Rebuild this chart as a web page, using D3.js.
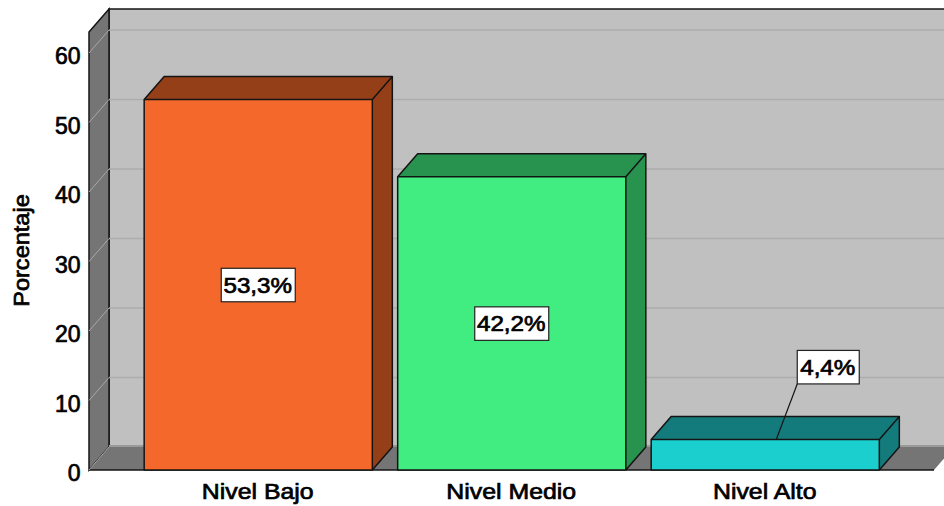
<!DOCTYPE html>
<html>
<head>
<meta charset="utf-8">
<script src="https://cdn.jsdelivr.net/npm/d3@7"></script>
<style>
  html, body { margin: 0; padding: 0; background: #fff; }
  svg { display: block; }
  /* regular weight with a thin stroke: the source text is a bit heavier than regular, not true bold */
  text { font-family: "Liberation Sans", Arial, sans-serif; fill: #000; stroke: #000; stroke-width: 0.7; }
</style>
</head>
<body>
<div class="container"></div>
<script>
const categories = ["Nivel Bajo", "Nivel Medio", "Nivel Alto"];
const values = [53.3, 42.2, 4.4];
const valueLabels = ["53,3%", "42,2%", "4,4%"];
const frontColors = ["#f4692b", "#41ec80", "#1bcfcf"];
const sideColors = ["#943f18", "#27934f", "#137b7b"];
const yTicks = [0, 10, 20, 30, 40, 50, 60];

const width = 944, height = 506;
const depthX = 20, depthY = 23;   // offset of the 3d depth

const svg = d3.select(".container")
    .append("svg")
    .attr("width", width)
    .attr("height", height);

// SCALES
const y = d3.scaleLinear().domain([0, 60]).range([470, 53]);
const x = d3.scaleBand()
    .domain(categories)
    .range([131.5, 892])
    .paddingInner(0.1)
    .paddingOuter(0.05);

const floorLeft = 89, floorRight = 934;
const wallTop = 32;

const pts = arr => arr.map(p => p.join(",")).join(" ");
const edge = "#141414";

// WALLS
svg.append("polygon")
    .attr("points", pts([[floorLeft + depthX, wallTop - depthY], [floorRight + depthX + 40, wallTop - depthY],
        [floorRight + depthX + 40, y(0) - depthY], [floorLeft + depthX, y(0) - depthY]]))
    .attr("fill", "#c0c0c0")
    .attr("stroke", edge)
    .attr("stroke-width", 1.5);

svg.append("polygon")
    .attr("points", pts([[floorLeft, wallTop], [floorLeft + depthX, wallTop - depthY],
        [floorLeft + depthX, y(0) - depthY], [floorLeft, y(0)]]))
    .attr("fill", "#757575")
    .attr("stroke", edge)
    .attr("stroke-width", 1.5);

svg.append("polygon")
    .attr("points", pts([[floorLeft, y(0)], [floorLeft + depthX, y(0) - depthY],
        [floorRight + depthX, y(0) - depthY], [floorRight, y(0)]]))
    .attr("fill", "#757575");

svg.append("line")
    .attr("x1", floorLeft).attr("x2", floorRight)
    .attr("y1", y(0)).attr("y2", y(0))
    .attr("stroke", edge)
    .attr("stroke-width", 1.5);

svg.append("line")
    .attr("x1", floorLeft + depthX).attr("x2", width)
    .attr("y1", y(0) - depthY - 1).attr("y2", y(0) - depthY - 1)
    .attr("stroke", "#9a9a9a")
    .attr("stroke-width", 2);

// GRID LINES
yTicks.filter(t => t > 0).forEach(t => {
    svg.append("line")
        .attr("x1", floorLeft + depthX).attr("x2", width)
        .attr("y1", y(t) - depthY).attr("y2", y(t) - depthY)
        .attr("stroke", "#adadad")
        .attr("stroke-width", 1.5);
});
yTicks.forEach(t => {
    svg.append("line")
        .attr("x1", floorLeft).attr("x2", floorLeft + depthX)
        .attr("y1", y(t)).attr("y2", y(t) - depthY)
        .attr("stroke", "#a8a8a8")
        .attr("stroke-width", 1);
});

// BARS
const bars = svg.selectAll("g.bar")
    .data(categories)
    .enter()
    .append("g")
    .attr("class", "bar");

bars.append("polygon")
    .attr("points", (d, i) => {
        const x0 = x(d), x1 = x(d) + x.bandwidth(), top = y(values[i]);
        return pts([[x0, top], [x0 + depthX, top - depthY], [x1 + depthX, top - depthY], [x1, top]]);
    })
    .attr("fill", (d, i) => sideColors[i]);

bars.append("polygon")
    .attr("points", (d, i) => {
        const x1 = x(d) + x.bandwidth(), top = y(values[i]);
        return pts([[x1, top], [x1 + depthX, top - depthY], [x1 + depthX, y(0) - depthY], [x1, y(0)]]);
    })
    .attr("fill", (d, i) => sideColors[i]);

bars.append("rect")
    .attr("x", d => x(d))
    .attr("y", (d, i) => y(values[i]))
    .attr("width", x.bandwidth())
    .attr("height", (d, i) => y(0) - y(values[i]))
    .attr("fill", (d, i) => frontColors[i]);

// outline of the whole box, drawn last so the edges sit on top
bars.append("path")
    .attr("d", (d, i) => {
        const x0 = x(d), x1 = x(d) + x.bandwidth(), top = y(values[i]), b = y(0);
        return `M${x0},${b}V${top}L${x0 + depthX},${top - depthY}H${x1 + depthX}V${b - depthY}L${x1},${b}Z` +
            `M${x0},${top}H${x1}V${b}M${x1},${top}L${x1 + depthX},${top - depthY}`;
    })
    .attr("fill", "none")
    .attr("stroke", edge)
    .attr("stroke-width", 1.5)
    .attr("stroke-linejoin", "round");

// AXES
const yAxis = d3.axisLeft(y).tickValues(yTicks).tickSize(0).tickPadding(0);
const yG = svg.append("g")
    .attr("transform", "translate(80.5, 3.2)")
    .call(yAxis);
yG.select(".domain").remove();
yG.selectAll("text").style("font-size", "23px");
yG.attr("font-family", null).attr("font-size", null);

const xAxis = d3.axisBottom(x).tickSize(0).tickPadding(0);
const xG = svg.append("g")
    .attr("transform", "translate(-0.5, 483)")
    .call(xAxis);
xG.select(".domain").remove();
// the source labels are wider than the font at this height, so stretch them sideways
xG.selectAll("text")
    .style("font-size", "22px")
    .attr("transform", "scale(1.13, 1)");
xG.attr("font-family", null).attr("font-size", null);

svg.append("text")
    .attr("transform", "translate(29, 250.5) rotate(-90) scale(1.07, 1)")
    .attr("text-anchor", "middle")
    .style("font-size", "22px")
    .text("Porcentaje");

// VALUE LABELS
// first two sit in the middle of the bar, the small one is pulled out with a leader line
const labelPos = (d, i) => i < 2
    ? [x(d) + x.bandwidth() / 2, (y(values[i]) + y(0)) / 2]
    : [x(d) + x.bandwidth() / 2 + 63, y(values[i]) - 72.5];

const leaderIdx = 2;
svg.append("line")
    .attr("x1", labelPos(categories[leaderIdx], leaderIdx)[0] - 31)
    .attr("y1", labelPos(categories[leaderIdx], leaderIdx)[1] + 17)
    .attr("x2", x(categories[leaderIdx]) + x.bandwidth() / 2 + 11)
    .attr("y2", y(values[leaderIdx]))
    .attr("stroke", edge)
    .attr("stroke-width", 1.2);

const labels = svg.selectAll("g.value")
    .data(categories)
    .enter()
    .append("g")
    .attr("class", "value")
    .attr("transform", (d, i) => `translate(${labelPos(d, i)})`);

labels.append("rect")
    .attr("x", (d, i) => i < 2 ? -37 : -31)
    .attr("y", -16.5)
    .attr("width", (d, i) => i < 2 ? 74 : 62)
    .attr("height", 33.5)
    .attr("fill", "#fff")
    .attr("stroke", "#222")
    .attr("stroke-width", 1.2);

labels.append("text")
    .attr("text-anchor", "middle")
    .attr("transform", "translate(-0.5, 8) scale(1.1, 1)")
    .style("font-size", "22px")
    .text((d, i) => valueLabels[i]);
</script>
</body>
</html>
